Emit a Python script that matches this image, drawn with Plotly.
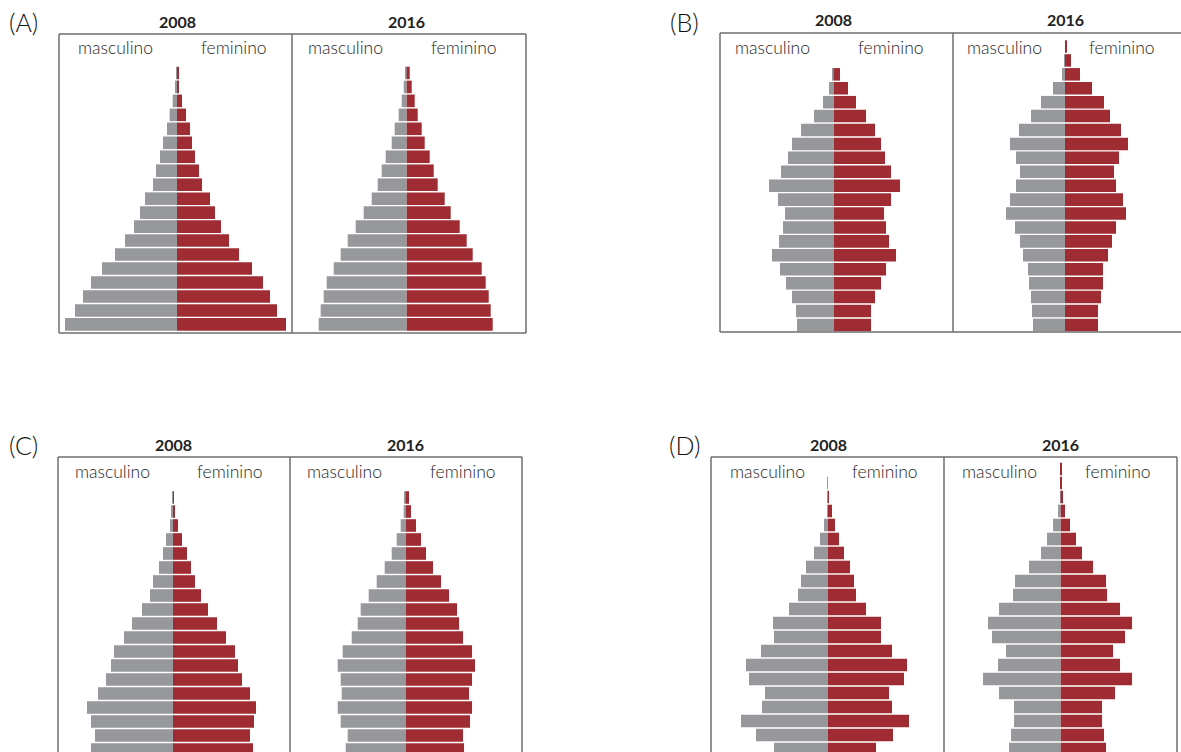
import plotly.graph_objects as go

# Age groups, top (oldest) to bottom (youngest)
age_groups = ["100+", "95-99", "90-94", "85-89", "80-84", "75-79", "70-74", "65-69",
              "60-64", "55-59", "50-54", "45-49", "40-44", "35-39", "30-34", "25-29",
              "20-24", "15-19", "10-14", "5-9", "0-4"]

years = ["2008", "2016"]

# Relative bar lengths (same order as age_groups)
A_2008_m = [0, 0, 1, 4, 13, 22, 30, 42, 51, 63, 72, 96, 111, 129, 156, 186, 225, 258, 282, 306, 336]
A_2008_f = [0, 0, 4, 6, 15, 27, 39, 45, 54, 66, 75, 99, 114, 132, 156, 186, 225, 258, 279, 300, 327]
A_2016_m = [0, 0, 3, 9, 15, 24, 36, 45, 63, 75, 87, 105, 129, 153, 177, 198, 219, 240, 249, 258, 264]
A_2016_f = [0, 0, 9, 15, 24, 33, 45, 54, 69, 81, 93, 114, 132, 159, 180, 198, 225, 237, 246, 252, 258]

B_2008_m = [0, 0, 3, 14, 32, 59, 98, 125, 137, 158, 194, 167, 146, 152, 164, 185, 161, 143, 125, 113, 110]
B_2008_f = [0, 0, 19, 43, 67, 97, 124, 142, 154, 172, 199, 172, 151, 157, 166, 187, 157, 142, 124, 112, 112]
B_2016_m = [0, 3, 9, 36, 72, 102, 138, 165, 147, 135, 147, 165, 177, 150, 135, 126, 111, 108, 102, 99, 96]
B_2016_f = [5, 18, 45, 81, 117, 135, 168, 189, 162, 147, 153, 174, 183, 153, 141, 129, 114, 114, 108, 99, 99]

C_2008_m = [0, 0, 1, 4, 9, 21, 30, 42, 60, 69, 93, 123, 147, 177, 186, 201, 225, 258, 246, 234, 246]
C_2008_f = [0, 0, 3, 6, 15, 27, 42, 54, 66, 84, 105, 132, 159, 186, 195, 207, 231, 249, 243, 231, 240]
C_2016_m = [0, 0, 3, 6, 15, 27, 42, 63, 87, 111, 135, 144, 162, 189, 204, 195, 192, 204, 195, 174, 180]
C_2016_f = [0, 0, 10, 16, 31, 46, 61, 82, 106, 130, 154, 160, 172, 199, 208, 199, 190, 199, 193, 172, 175]

D_2008_m = [0, 2, 2, 3, 12, 24, 42, 66, 81, 90, 117, 165, 162, 201, 246, 237, 189, 198, 261, 216, 162]
D_2008_f = [0, 0, 3, 12, 21, 33, 48, 66, 78, 84, 114, 159, 159, 192, 237, 228, 183, 192, 243, 195, 144]
D_2016_m = [0, 0, 2, 8, 23, 41, 59, 95, 137, 143, 185, 218, 206, 164, 188, 233, 185, 140, 140, 149, 155]
D_2016_f = [2, 2, 7, 13, 28, 46, 64, 97, 136, 139, 178, 214, 193, 157, 178, 214, 163, 124, 124, 130, 136]

panel_labels = ["(A)", "(B)", "(C)", "(D)"]
male_label = "masculino"
female_label = "feminino"

data = {
    "(A)": [(A_2008_m, A_2008_f), (A_2016_m, A_2016_f)],
    "(B)": [(B_2008_m, B_2008_f), (B_2016_m, B_2016_f)],
    "(C)": [(C_2008_m, C_2008_f), (C_2016_m, C_2016_f)],
    "(D)": [(D_2008_m, D_2008_f), (D_2016_m, D_2016_f)],
}

# ---- layout geometry (pixels) ----
W, H = 1181, 752
GRAY = "#97989c"
RED = "#a02c33"
FRAME = "#6e6e6e"
FONT = "Lato"
UNIT = 3.0  # data units per pixel

geom = {
    "(A)": dict(top=34, bottom=333, edges=[59, 292, 526], centers=[177, 406.7], row0=45.0, pitch=13.97,
                label_xy=(7, 22), right_line=True, bottom_line=True),
    "(B)": dict(top=33, bottom=332, edges=[720, 953, 1181], centers=[833.7, 1065], row0=46.5, pitch=13.92,
                label_xy=(668, 22), right_line=False, bottom_line=True),
    "(C)": dict(top=457, bottom=752, edges=[58, 290, 522], centers=[173, 405.7], row0=469.5, pitch=14.0,
                label_xy=(7, 445), right_line=True, bottom_line=False),
    "(D)": dict(top=457, bottom=752, edges=[711, 944, 1177], centers=[828, 1060.7], row0=469.0, pitch=14.0,
                label_xy=(667, 445), right_line=True, bottom_line=False),
}

fig = go.Figure()
layout_axes = {}
shapes = []
annotations = []

k = 0
for p in panel_labels:
    g = geom[p]
    for j, yr in enumerate(years):
        k += 1
        xa = "x" if k == 1 else f"x{k}"
        ya = "y" if k == 1 else f"y{k}"
        m, f = data[p][j]
        fig.add_trace(go.Bar(y=age_groups, x=[-v for v in m], orientation="h", xaxis=xa, yaxis=ya,
                             marker=dict(color=GRAY, line=dict(width=0)), width=0.9,
                             showlegend=False, hoverinfo="skip"))
        fig.add_trace(go.Bar(y=age_groups, x=f, orientation="h", xaxis=xa, yaxis=ya,
                             marker=dict(color=RED, line=dict(width=0)), width=0.9,
                             showlegend=False, hoverinfo="skip"))
        l, r = g["edges"][j], g["edges"][j + 1]
        c = g["centers"][j]
        xname = "xaxis" if k == 1 else f"xaxis{k}"
        yname = "yaxis" if k == 1 else f"yaxis{k}"
        layout_axes[xname] = dict(domain=[l / W, r / W], range=[(l - c) * UNIT, (r - c) * UNIT],
                                  anchor=ya, visible=False, fixedrange=True)
        layout_axes[yname] = dict(domain=[1 - g["bottom"] / H, 1 - g["top"] / H],
                                  range=[(g["bottom"] - g["row0"]) / g["pitch"], (g["top"] - g["row0"]) / g["pitch"]],
                                  type="category", categoryorder="array", categoryarray=age_groups,
                                  anchor=xa, visible=False, fixedrange=True)
        # year title
        annotations.append(dict(text=f"<b>{yr}</b>", xref="paper", yref="paper", x=c / W, y=1 - (g["top"] - 13) / H,
                                showarrow=False, xanchor="center", yanchor="middle",
                                font=dict(family=FONT, size=16, color="#222222")))
        annotations.append(dict(text=male_label, xref="paper", yref="paper", x=(c - 61) / W, y=1 - (g["top"] + 14) / H,
                                showarrow=False, xanchor="center", yanchor="middle",
                                font=dict(family=FONT, size=17.5, color="#1e1e1e", weight=300)))
        annotations.append(dict(text=female_label, xref="paper", yref="paper", x=(c + 57) / W, y=1 - (g["top"] + 14) / H,
                                showarrow=False, xanchor="center", yanchor="middle",
                                font=dict(family=FONT, size=17.5, color="#1e1e1e", weight=300)))
    # frame lines
    e = g["edges"]
    top, bot = g["top"], g["bottom"]
    line = dict(color=FRAME, width=1.5)
    shapes.append(dict(type="line", xref="paper", yref="paper", x0=e[0] / W, x1=e[2] / W,
                       y0=1 - top / H, y1=1 - top / H, line=line))
    xs = [e[0], e[1]] + ([e[2]] if g["right_line"] else [])
    for xv in xs:
        shapes.append(dict(type="line", xref="paper", yref="paper", x0=xv / W, x1=xv / W,
                           y0=1 - top / H, y1=1 - bot / H, line=line))
    if g["bottom_line"]:
        shapes.append(dict(type="line", xref="paper", yref="paper", x0=e[0] / W, x1=e[2] / W,
                           y0=1 - bot / H, y1=1 - bot / H, line=line))
    lx, ly = g["label_xy"]
    annotations.append(dict(text=p, xref="paper", yref="paper", x=lx / W, y=1 - ly / H, showarrow=False,
                            xanchor="left", yanchor="middle",
                            font=dict(family=FONT, size=25, color="#111111", weight=300)))

fig.update_layout(width=W, height=H, margin=dict(l=0, r=0, t=0, b=0), paper_bgcolor="white",
                  plot_bgcolor="rgba(0,0,0,0)", barmode="relative", bargap=0.1,
                  shapes=shapes, annotations=annotations, **layout_axes)

fig.write_html("out.html", config={"displayModeBar": False},
               post_script="document.body.style.margin='0px';document.body.style.overflow='hidden';")
